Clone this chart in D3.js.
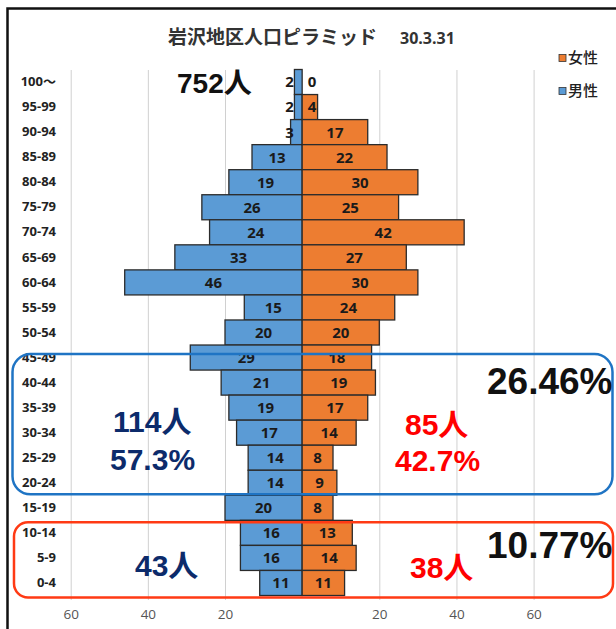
<!DOCTYPE html>
<html>
<head>
<meta charset="utf-8">
<script src="https://cdn.jsdelivr.net/npm/d3@7"></script>
<style>
  html, body { margin: 0; padding: 0; background: #fff; }
  svg { display: block; }
  .cat text { font-family: "Open Sans", "Noto Sans CJK JP", sans-serif; font-weight: 700; font-size: 13px; fill: #222; }
  .tick-lbl text { font-family: "Open Sans", sans-serif; font-size: 13.5px; fill: #555; }
  .val { font-family: "Open Sans", sans-serif; font-weight: 700; font-size: 15px; fill: #1a1a1a; }
  .big { font-family: "Liberation Sans", Arial, "Noto Sans CJK JP", sans-serif; font-weight: 700; }
</style>
</head>
<body>
<div id="chart"></div>
<script>
// age groups, top to bottom
const ages = ["100～", "95-99", "90-94", "85-89", "80-84", "75-79", "70-74", "65-69", "60-64", "55-59",
  "50-54", "45-49", "40-44", "35-39", "30-34", "25-29", "20-24", "15-19", "10-14", "5-9", "0-4"];
const male = [2, 2, 3, 13, 19, 26, 24, 33, 46, 15, 20, 29, 21, 19, 17, 14, 14, 20, 16, 16, 11];
const female = [0, 4, 17, 22, 30, 25, 42, 27, 30, 24, 20, 18, 19, 17, 14, 8, 9, 8, 13, 14, 11];
const xTicks = [-60, -40, -20, 20, 40, 60];

// groups marked by the boxes
const workAges = ["45-49", "40-44", "35-39", "30-34", "25-29", "20-24"];
const kidAges = ["10-14", "5-9", "0-4"];

const W = 616, H = 629;
const blue = "#5b9bd5", orange = "#ed7d31";

const svg = d3.select("#chart").append("svg")
  .attr("width", W).attr("height", H);

const x = d3.scaleLinear().domain([-60, 60]).range([70.7, 533.6]);
const y = d3.scaleBand().domain(ages).range([69.5, 595.5]).padding(0);

// frame
svg.append("path")
  .attr("d", "M7.5," + H + "V8.5H" + W)
  .attr("fill", "none").attr("stroke", "#111").attr("stroke-width", 2.5);

// title
const title = svg.append("text")
  .attr("x", 168).attr("y", 44)
  .attr("font-family", "'Noto Sans CJK JP', sans-serif")
  .attr("font-size", 19).attr("font-weight", 700).attr("fill", "#333");
title.append("tspan").text("岩沢地区人口ピラミッド");
title.append("tspan").attr("x", 400).attr("font-family", "'Open Sans', sans-serif").attr("font-size", 16).text("30.3.31");

// gridlines
svg.append("g")
  .attr("transform", "translate(0,600)")
  .call(d3.axisBottom(x).tickValues(xTicks).tickSize(-530).tickFormat(""))
  .call(g => g.select(".domain").remove())
  .call(g => g.selectAll("line").attr("stroke", "#d0d0d0"));

// bottom tick labels
svg.append("g")
  .attr("class", "tick-lbl")
  .attr("transform", "translate(0,606)")
  .call(d3.axisBottom(x).tickValues(xTicks).tickSize(0).tickFormat(d => Math.abs(d)))
  .call(g => g.select(".domain").remove());

// category labels
svg.append("g")
  .attr("class", "cat")
  .attr("transform", "translate(56,0)")
  .call(d3.axisLeft(y).tickSize(0).tickPadding(0))
  .call(g => g.select(".domain").remove());

const rows = ages.map((a, i) => ({ age: a, m: male[i], f: female[i] }));

// male bars (left)
svg.append("g").selectAll("rect").data(rows).join("rect")
  .attr("x", d => x(-d.m)).attr("y", d => y(d.age))
  .attr("width", d => x(0) - x(-d.m)).attr("height", y.bandwidth())
  .attr("fill", blue).attr("stroke", "#2b2b2b").attr("stroke-width", 1.3);

// female bars (right)
svg.append("g").selectAll("rect").data(rows).join("rect")
  .attr("x", x(0)).attr("y", d => y(d.age))
  .attr("width", d => x(d.f) - x(0)).attr("height", y.bandwidth())
  .attr("fill", orange).attr("stroke", "#2b2b2b").attr("stroke-width", 1.3);

// value labels
const cy = d => y(d.age) + y.bandwidth() / 2;
svg.append("g").selectAll("text").data(rows).join("text")
  .attr("class", "val").attr("text-anchor", "middle").attr("dy", "0.36em")
  .attr("x", d => Math.min((x(-d.m) + x(0)) / 2, x(0) - 12.5))
  .attr("y", cy).text(d => d.m);
svg.append("g").selectAll("text").data(rows).join("text")
  .attr("class", "val").attr("text-anchor", "middle").attr("dy", "0.36em")
  .attr("x", d => Math.max((x(d.f) + x(0)) / 2, x(0) + 10))
  .attr("y", cy).text(d => d.f);

// legend
const legend = [{ label: "女性", color: orange, y: 58 }, { label: "男性", color: blue, y: 91 }];
const lg = svg.append("g").selectAll("g").data(legend).join("g")
  .attr("transform", d => `translate(559,${d.y})`);
lg.append("rect").attr("x", 0).attr("y", -3.5).attr("width", 7).attr("height", 7)
  .attr("fill", d => d.color).attr("stroke", "#333").attr("stroke-width", 0.8);
lg.append("text").attr("x", 9).attr("dy", "0.36em")
  .attr("font-family", "'Noto Sans CJK JP', sans-serif").attr("font-size", 15).attr("font-weight", 500)
  .attr("fill", "#222").text(d => d.label);

// highlight boxes
const yTop = a => y(a), yBot = a => y(a) + y.bandwidth();
svg.append("rect")
  .attr("x", 12.5).attr("y", yTop(workAges[0]) + 9).attr("width", 600)
  .attr("height", yBot(workAges[workAges.length - 1]) - yTop(workAges[0]) - 10)
  .attr("rx", 18).attr("fill", "none").attr("stroke", "#1f74c4").attr("stroke-width", 2.5);
svg.append("rect")
  .attr("x", 14).attr("y", yTop(kidAges[0]) + 2).attr("width", 599)
  .attr("height", yBot(kidAges[kidAges.length - 1]) - yTop(kidAges[0]))
  .attr("rx", 14).attr("fill", "none").attr("stroke", "#ff3a14").attr("stroke-width", 2.5);

// totals
const sumBy = (arr, list) => d3.sum(list, a => arr[ages.indexOf(a)]);
const total = d3.sum(male) + d3.sum(female);
const wm = sumBy(male, workAges), wf = sumBy(female, workAges);
const km = sumBy(male, kidAges), kf = sumBy(female, kidAges);
const pct = (v, n) => (v / n * 100).toFixed(n === total ? 2 : 1) + "%";

const notes = [
  { t: total + "人", x: 177, y: 93, s: 28, c: "#111" },
  { t: wm + "人", x: 113, y: 432, s: 30, c: "#0c2b6b" },
  { t: pct(wm, wm + wf), x: 110, y: 470, s: 30, c: "#0c2b6b" },
  { t: wf + "人", x: 405, y: 435, s: 30, c: "#ff0000" },
  { t: pct(wf, wm + wf), x: 395, y: 471, s: 30, c: "#ff0000" },
  { t: pct(wm + wf, total), x: 487, y: 394, s: 37, c: "#111" },
  { t: km + "人", x: 135, y: 576, s: 30, c: "#0c2b6b" },
  { t: kf + "人", x: 410, y: 578, s: 30, c: "#ff0000" },
  { t: pct(km + kf, total), x: 487, y: 558, s: 37, c: "#111" }
];
svg.append("g").selectAll("text").data(notes).join("text")
  .attr("class", "big")
  .attr("x", d => d.x).attr("y", d => d.y)
  .attr("font-size", d => d.s).attr("fill", d => d.c)
  .text(d => d.t);
</script>
</body>
</html>
